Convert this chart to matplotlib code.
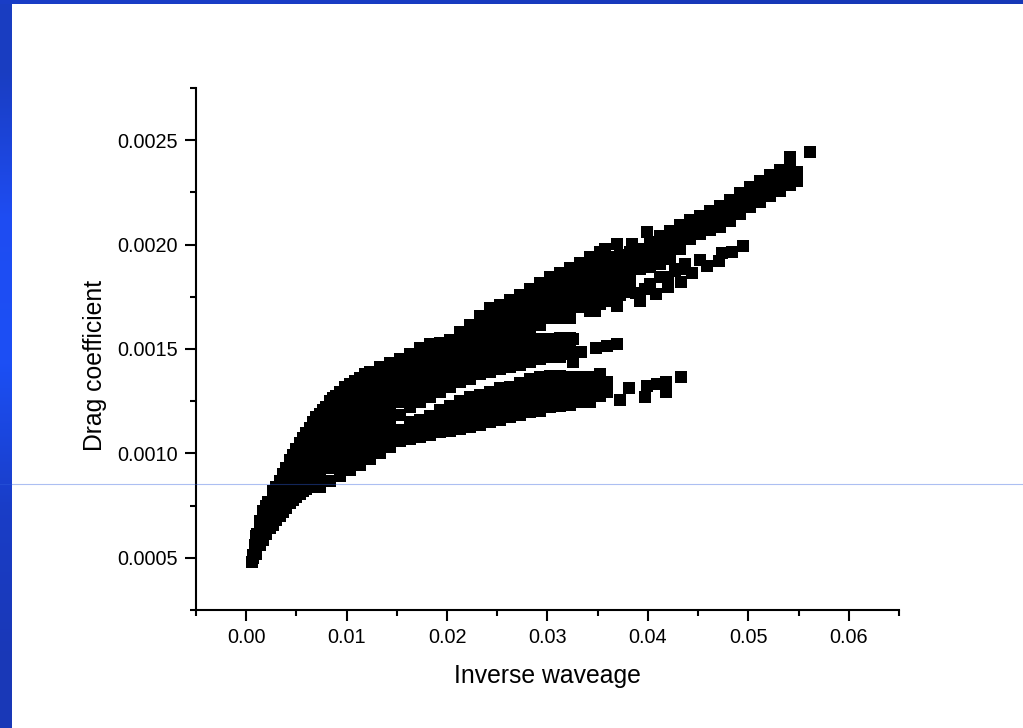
import numpy as np
import matplotlib
matplotlib.use("Agg")
import matplotlib.pyplot as plt
from matplotlib.lines import Line2D
from matplotlib.ticker import MultipleLocator, FormatStrFormatter

plt.rcParams['font.family'] = ['Liberation Sans', 'DejaVu Sans']

x_label = "Inverse waveage"
y_label = "Drag coefficient"
x_ticks = [0.00, 0.01, 0.02, 0.03, 0.04, 0.05, 0.06]
y_ticks = [0.0005, 0.0010, 0.0015, 0.0020, 0.0025]

# Main cloud, read column by column: inverse waveage, then drag coefficient x 1e6
cloud_x = [.00055, .00065, .00095, .00134, .00234, .00334, .00433, .00533, .00632, .00732,
           .00832, .00931, .01031, .01130, .01230, .01330, .01429, .01529, .01628, .01728,
           .01828, .01927, .02027, .02127, .02226, .02326, .02425, .02525, .02625, .02724,
           .02824, .02923, .03023, .03123, .03222, .03322, .03421, .03521, .03621, .03720,
           .03820, .03919, .04019, .04119, .04218, .04318, .04417, .04517, .04617, .04716,
           .04816, .04915, .05015, .05115, .05214, .05314, .05413, .05483]
cloud_y = [
    [481], [514], [562, 606], [654, 610, 562], [764, 721, 682, 644],
    [869, 826, 783, 740, 701], [966, 918, 865, 817, 764],
    [1052, 1004, 956, 908, 855, 807],
    [1124, 1071, 1018, 970, 922, 874, 840],
    [1191, 1138, 1085, 1032, 980, 927, 874, 840],
    [1249, 1196, 1143, 1090, 1037, 984, 932, 869],
    [1292, 1239, 1186, 1133, 1080, 1028, 975, 922, 893],
    [1330, 1277, 1225, 1172, 1119, 1066, 1037, 994, 956, 922],
    [1359, 1306, 1253, 1200, 1148, 1095, 1061, 1018, 980, 946],
    [1392, 1340, 1287, 1234, 1181, 1128, 1095, 1052, 1013, 975],
    [1412, 1359, 1306, 1253, 1200, 1148, 1114, 1080, 1052, 1004],
    [1431, 1378, 1325, 1272, 1220, 1172, 1152, 1119, 1085, 1032],
    [1450, 1397, 1344, 1292, 1244, 1186, 1114, 1061],
    [1474, 1421, 1368, 1316, 1268, 1220, 1148, 1095, 1071],
    [1503, 1450, 1397, 1344, 1296, 1244, 1162, 1114, 1080],
    [1522, 1469, 1416, 1364, 1316, 1268, 1181, 1133, 1090],
    [1527, 1474, 1421, 1368, 1325, 1292, 1210, 1157, 1104],
    [1541, 1488, 1436, 1383, 1344, 1316, 1229, 1201, 1172, 1143, 1109],
    [1580, 1527, 1474, 1421, 1373, 1340, 1253, 1224, 1191, 1157, 1119],
    [1613, 1560, 1508, 1455, 1402, 1354, 1272, 1239, 1205, 1167, 1128],
    [1657, 1604, 1551, 1498, 1445, 1392, 1378, 1282, 1248, 1210, 1176, 1138],
    [1695, 1642, 1589, 1536, 1484, 1431, 1392, 1296, 1263, 1224, 1186, 1148],
    [1709, 1657, 1604, 1551, 1498, 1445, 1402, 1311, 1277, 1239, 1200, 1162],
    [1733, 1680, 1628, 1575, 1522, 1469, 1416, 1320, 1287, 1248, 1210, 1172],
    [1757, 1704, 1652, 1599, 1546, 1493, 1440, 1421, 1335, 1301, 1263, 1224, 1186],
    [1786, 1733, 1680, 1628, 1575, 1522, 1469, 1440, 1354, 1316, 1277, 1239, 1196],
    [1815, 1762, 1709, 1657, 1613, 1546, 1493, 1450, 1364, 1325, 1287, 1248, 1205],
    [1844, 1791, 1738, 1685, 1647, 1546, 1493, 1460, 1373, 1320, 1268, 1220],
    [1863, 1810, 1757, 1704, 1647, 1551, 1498, 1464, 1373, 1320, 1268, 1229],
    [1887, 1834, 1781, 1728, 1676, 1647, 1551, 1498, 1474, 1364, 1311, 1258, 1234],
    [1911, 1858, 1805, 1752, 1700, 1368, 1316, 1263, 1244],
    [1940, 1887, 1834, 1781, 1728, 1680, 1364, 1311, 1263, 1248],
    [1964, 1911, 1858, 1805, 1752, 1714, 1378, 1330, 1277],
    [1940, 1892, 1844, 1796, 1748],
    [1949, 1901, 1853, 1805, 1757],
    [1964, 1916, 1868, 1820],
    [1978, 1930, 1882],
    [2012, 1964, 1916, 1892],
    [2040, 1992, 1944, 1906],
    [2064, 2016, 1968, 1930],
    [2093, 2045, 1997, 1978],
    [2117, 2069, 2026],
    [2136, 2088, 2050],
    [2160, 2113, 2069],
    [2184, 2137, 2084],
    [2213, 2165, 2113],
    [2247, 2199, 2146],
    [2276, 2228, 2180],
    [2304, 2257, 2204],
    [2333, 2285, 2232],
    [2357, 2309, 2257],
    [2420, 2381, 2333, 2285],
    [2348, 2304],
]

# Points along the steep upper and lower edges near the origin
edge_up_x = [.00065, .00085, .00105, .00134, .00164, .00194, .00214, .00264, .00294, .00364, .00394,
             .00463, .00493, .00563, .00592, .00662, .00692, .00762, .00791, .00861, .00891,
             .00981, .01081, .01180]
edge_up_y = [500, 562, 615, 677, 725, 749, 768, 821, 840, 903, 932,
             994, 1023, 1076, 1100, 1152, 1172, 1210, 1224, 1263, 1277,
             1316, 1349, 1378]
edge_low_x = [.00095, .00164, .00194, .00264, .00294, .00364, .00394, .00463, .00493, .00563, .00592]
edge_low_y = [519, 586, 615, 658, 682, 720, 740, 778, 792, 821, 831]

# Separate points at the tips of the three arms and above the upper edge
finger_mid_x = [.03192, .03252, .03252, .03332, .03481, .03590, .03690]
finger_mid_y = [1474, 1546, 1436, 1484, 1503, 1513, 1522]
finger_low_x = [.03590, .03590, .03720, .03810, .03969, .03989, .04089, .04179, .04179, .04328]
finger_low_y = [1344, 1292, 1254, 1311, 1272, 1325, 1330, 1344, 1292, 1364]
finger_up_x = [.03471, .03601, .03690, .03800, .03879, .03919, .03969, .04019, .04079, .04119,
               .04198, .04198, .04268, .04328, .04318, .04368, .04437, .04517, .04587, .04706,
               .04736, .04836, .04945]
finger_up_y = [1680, 1728, 1704, 1772, 1767, 1728, 1786, 1810, 1762, 1844,
               1796, 1844, 1872, 1820, 1882, 1906, 1863, 1925, 1896, 1920,
               1959, 1964, 1993]
outlier_x = [.03571, .03690, .03839, .03989, .05613]
outlier_y = [1978, 2002, 2002, 2060, 2444]

xs = []
ys = []
for cx, col in zip(cloud_x, cloud_y):
    xs.extend([cx] * len(col))
    ys.extend(col)
xs += edge_up_x + edge_low_x + finger_mid_x + finger_low_x + finger_up_x + outlier_x
ys += edge_up_y + edge_low_y + finger_mid_y + finger_low_y + finger_up_y + outlier_y
xs = np.array(xs)
ys = np.array(ys) * 1e-6

W, H = 1023, 728
fig = plt.figure(figsize=(W / 100, H / 100), dpi=100, facecolor='white')

# Slide frame: blue strips on the left and the top
bg = fig.add_axes([0, 0, 1, 1], zorder=0)
bg.axis('off')
grad = np.array([[0.10, 0.24, 0.76], [0.12, 0.30, 0.95], [0.11, 0.31, 0.96],
                 [0.10, 0.24, 0.78], [0.10, 0.22, 0.72]])[:, None, :]
bg.imshow(grad, extent=[0, 12 / W, 0, 1], aspect='auto', interpolation='bilinear')
bg.imshow(np.array([[[0.10, 0.24, 0.78], [0.09, 0.22, 0.72]]]),
          extent=[0, 1, 1 - 4 / H, 1], aspect='auto', interpolation='bilinear')
bg.set_xlim(0, 1)
bg.set_ylim(0, 1)

ax = fig.add_axes([196 / W, 1 - 610 / H, 703 / W, 522 / H], zorder=1)
ax.patch.set_alpha(0)
ax.scatter(xs, ys, marker='s', s=63, c='black', linewidths=0, clip_on=False)
ax.set_xlim(-0.005, 0.065)
ax.set_ylim(0.00025, 0.00275)

for side in ('top', 'right'):
    ax.spines[side].set_visible(False)
for side in ('left', 'bottom'):
    ax.spines[side].set_linewidth(1.5)

ax.set_xticks(x_ticks)
ax.set_yticks(y_ticks)
ax.xaxis.set_major_formatter(FormatStrFormatter('%.2f'))
ax.yaxis.set_major_formatter(FormatStrFormatter('%.4f'))
ax.xaxis.set_minor_locator(MultipleLocator(0.005))
ax.yaxis.set_minor_locator(MultipleLocator(0.00025))
ax.tick_params(which='major', length=8, width=1.5, labelsize=14.3, pad=5)
ax.tick_params(which='minor', length=4.5, width=1.5)

ax.set_xlabel(x_label, fontsize=17.8, va='center')
ax.set_ylabel(y_label, fontsize=17.8, va='center')
ax.xaxis.set_label_coords(0.4993, -0.1265)
ax.yaxis.set_label_coords(-0.144, 0.469)

# Thin pale line across the whole slide
fig.add_artist(Line2D([0, 1], [1 - 484 / H] * 2, color='#3060e0', alpha=0.4, lw=0.8,
                      zorder=5, transform=fig.transFigure))

fig.savefig('out.png', dpi=100, facecolor='white')
